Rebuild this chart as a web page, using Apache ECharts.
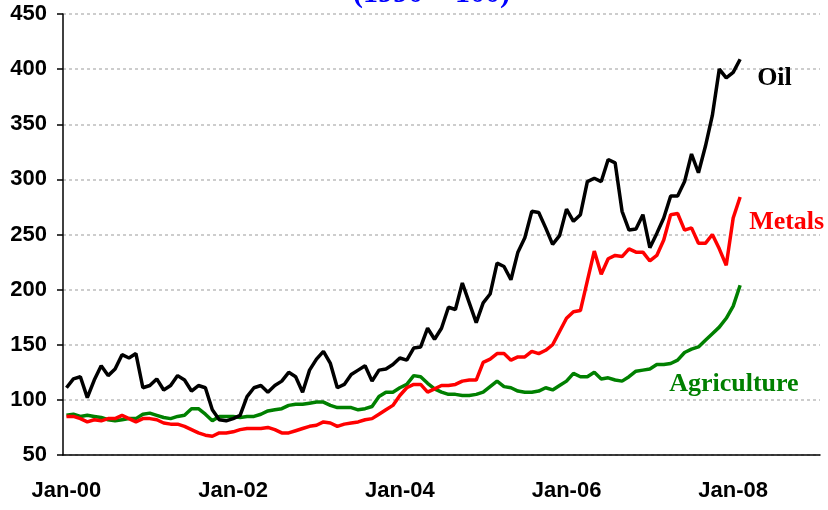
<!DOCTYPE html>
<html>
<head>
<meta charset="utf-8">
<script src="https://cdn.jsdelivr.net/npm/echarts@6/dist/echarts.min.js"></script>
<style>
  html, body { margin: 0; padding: 0; background: #fff; }
  #chart { width: 828px; height: 510px; }
</style>
</head>
<body>
<div id="chart"></div>
<script>
// monthly index values, Jan-00 .. Feb-08
const oil = [
  111, 119, 121, 102, 118, 131, 122, 128, 141, 138,
  142, 111, 113, 119, 109, 113, 122, 118, 108, 113,
  111, 91, 82, 81, 83, 86, 103, 111, 113, 107,
  113, 117, 125, 121, 107, 127, 137, 144, 133, 111,
  114, 123, 127, 131, 117, 127, 128, 132, 138, 136,
  147, 148, 165, 155, 165, 184, 182, 206, 188, 170,
  188, 196, 224, 221, 209, 234, 247, 271, 270, 256,
  241, 249, 273, 262, 268, 298, 301, 298, 318, 315,
  271, 254, 255, 268, 238, 251, 265, 285, 285, 298,
  323, 306, 330, 358, 400, 392, 397, 409
];
const metals = [
  85, 85, 83, 80, 82, 81, 83, 83, 86, 83,
  80, 83, 83, 82, 79, 78, 78, 76, 73, 70,
  68, 67, 70, 70, 71, 73, 74, 74, 74, 75,
  73, 70, 70, 72, 74, 76, 77, 80, 79, 76,
  78, 79, 80, 82, 83, 87, 91, 95, 104, 111,
  114, 114, 107, 110, 113, 113, 114, 117, 118, 118,
  134, 137, 142, 142, 136, 139, 139, 144, 142, 145,
  150, 162, 174, 180, 181, 208, 235, 214, 228, 231,
  230, 237, 234, 234, 226, 231, 245, 268, 269, 254,
  256, 242, 242, 250, 237, 222, 265, 284
];
const agriculture = [
  86, 87, 85, 86, 85, 84, 82, 81, 82, 83,
  83, 87, 88, 86, 84, 83, 85, 86, 92, 92,
  87, 81, 85, 85, 85, 84, 85, 85, 87, 90,
  91, 92, 95, 96, 96, 97, 98, 98, 95, 93,
  93, 93, 91, 92, 94, 103, 107, 107, 111, 114,
  122, 121, 115, 110, 107, 105, 105, 104, 104, 105,
  107, 112, 117, 112, 111, 108, 107, 107, 108, 111,
  109, 113, 117, 124, 121, 121, 125, 119, 120, 118,
  117, 121, 126, 127, 128, 132, 132, 133, 136, 143,
  146, 148, 154, 160, 166, 174, 185, 204
];

// axis runs Jan-00 .. Jan-09, one category per month
const monthNames = ['Jan', 'Feb', 'Mar', 'Apr', 'May', 'Jun', 'Jul', 'Aug', 'Sep', 'Oct', 'Nov', 'Dec'];
const months = [];
for (let y = 0; y <= 9; y++) {
  for (let m = 0; m < 12; m++) {
    if (y === 9 && m > 0) break;
    months.push(monthNames[m] + '-0' + y);
  }
}

const axisFont = {
  fontFamily: "'Liberation Sans Narrow', 'Arial Narrow', 'Liberation Sans', sans-serif",
  fontWeight: 'bold',
  fontSize: 22,
  color: '#000'
};
const nameFont = {
  fontFamily: "'Liberation Serif', serif",
  fontWeight: 'bold',
  fontSize: 26
};

function line(name, data, color, offset) {
  return {
    name: name,
    type: 'line',
    data: data,
    symbol: 'none',
    lineStyle: { color: color, width: 3.5 },
    itemStyle: { color: color },
    endLabel: Object.assign({
      show: true,
      formatter: '{a}',
      color: color,
      offset: offset
    }, nameFont)
  };
}

const chart = echarts.init(document.getElementById('chart'));
chart.setOption({
  animation: false,
  backgroundColor: '#fff',
  grid: { left: 63, top: 14, right: 8, bottom: 55 },
  graphic: [{
    type: 'text',
    left: 353,
    top: -21,
    style: {
      text: '(1990 = 100)',
      fill: '#0000ff',
      font: "bold 30px 'Liberation Serif', serif"
    }
  }],
  xAxis: {
    type: 'category',
    data: months,
    boundaryGap: true,
    axisLine: { lineStyle: { color: '#000', width: 1.5 } },
    axisTick: { interval: 23, length: 7, lineStyle: { color: '#000', width: 1.5 } },
    axisLabel: Object.assign({ interval: 23, margin: 25 }, axisFont),
    splitLine: { show: false }
  },
  yAxis: {
    type: 'value',
    min: 50,
    max: 450,
    interval: 50,
    axisLine: { show: true, lineStyle: { color: '#000', width: 1.5 } },
    axisTick: { show: true, length: 6, lineStyle: { color: '#000', width: 1.5 } },
    axisLabel: Object.assign({ margin: 16 }, axisFont),
    splitLine: { lineStyle: { color: '#bdbdbd', width: 1.5, type: [3, 3] } }
  },
  series: [
    line('Agriculture', agriculture, '#008000', [-79, 99]),
    line('Metals', metals, '#ff0000', [1, 25]),
    line('Oil', oil, '#000000', [9, 19])
  ]
});
</script>
</body>
</html>
